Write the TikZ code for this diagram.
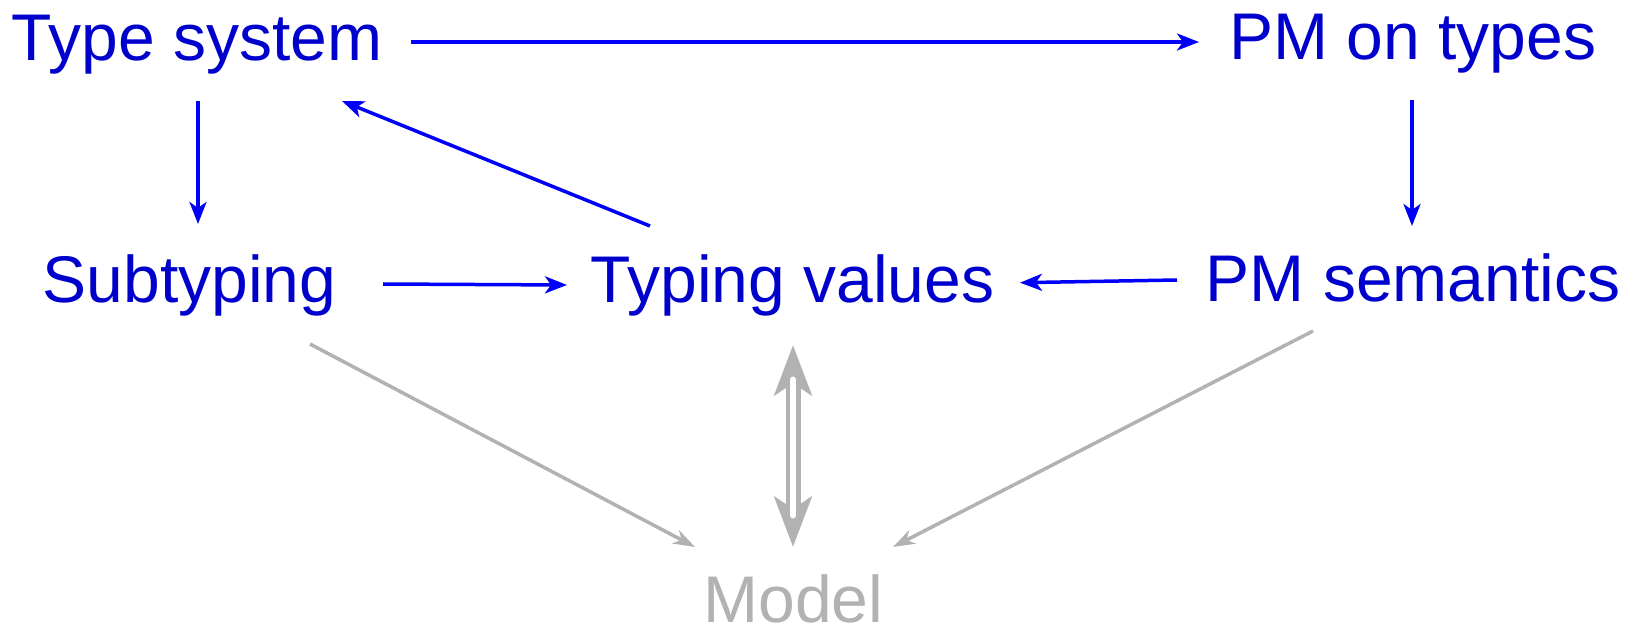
\documentclass[tikz,border=0pt]{standalone}
\usepackage{fontspec}
\setmainfont{Liberation Sans}
\usetikzlibrary{arrows.meta}
\definecolor{txtblue}{RGB}{0,0,205}
\definecolor{lnblue}{RGB}{0,0,250}
\definecolor{mgray}{RGB}{178,178,178}
\tikzset{
  lbl/.style={anchor=base, inner sep=0pt, font=\fontsize{66}{70}\selectfont, text=txtblue},
  mlbl/.style={lbl, text=mgray},
  barrow/.style={draw=lnblue, line width=3.5pt, -{Stealth[length=22pt,width=17pt,inset=6pt]}},
  garrow/.style={draw=mgray, line width=3.5pt, -{Stealth[length=22pt,width=15pt,inset=7pt]}},
  equiv/.style={draw=mgray, line width=15pt,
    {Stealth[length=50pt,width=37pt,inset=12pt]}-{Stealth[length=50pt,width=37pt,inset=12pt]}},
}
\begin{document}
\begin{tikzpicture}[x=1pt,y=1pt]
\useasboundingbox (0,0) rectangle (1631,-628);

\node[lbl]  (ts)  at (197,-60.5)    {Type system};
\node[lbl]  (pmt) at (1413,-59.5)   {PM on types};
\node[lbl]  (sub) at (189.5,-302.5) {Subtyping};
\node[lbl]  (tv)  at (792.5,-302.5) {Typing values};
\node[lbl]  (pms) at (1413,-302)    {PM semantics};
\node[mlbl] (mod) at (793.5,-622) {Model};

% blue dependencies
\draw[barrow] ([shift={(214,18.5)}]ts.base) -- ([shift={(-214,17.5)}]pmt.base);
\draw[barrow] ([shift={(1,-40.5)}]ts.base) -- ([shift={(8.5,78.5)}]sub.base);
\draw[barrow] ([shift={(-1,-40.5)}]pmt.base) -- ([shift={(-1,76)}]pms.base);
\draw[barrow] ([shift={(-142.5,76.5)}]tv.base) -- ([shift={(145,-40.5)}]ts.base);
\draw[barrow] ([shift={(193.5,18.5)}]sub.base) -- ([shift={(-225.5,17.5)}]tv.base);
\draw[barrow] ([shift={(-236,22)}]pms.base) -- ([shift={(227.5,19.8)}]tv.base);

% grey links to the model
\draw[garrow] ([shift={(120.5,-41.5)}]sub.base) -- ([shift={(-98.5,75)}]mod.base);
\draw[garrow] ([shift={(-100,-29)}]pms.base) -- ([shift={(99.5,75)}]mod.base);

% double-line equivalence
\draw[equiv] ([shift={(0.5,-42.5)}]tv.base) -- ([shift={(-0.5,75)}]mod.base);
\draw[white, line width=6pt, line cap=round]
  ([shift={(0.5,-77)}]tv.base) -- ([shift={(-0.5,106.5)}]mod.base);
\end{tikzpicture}
\end{document}
